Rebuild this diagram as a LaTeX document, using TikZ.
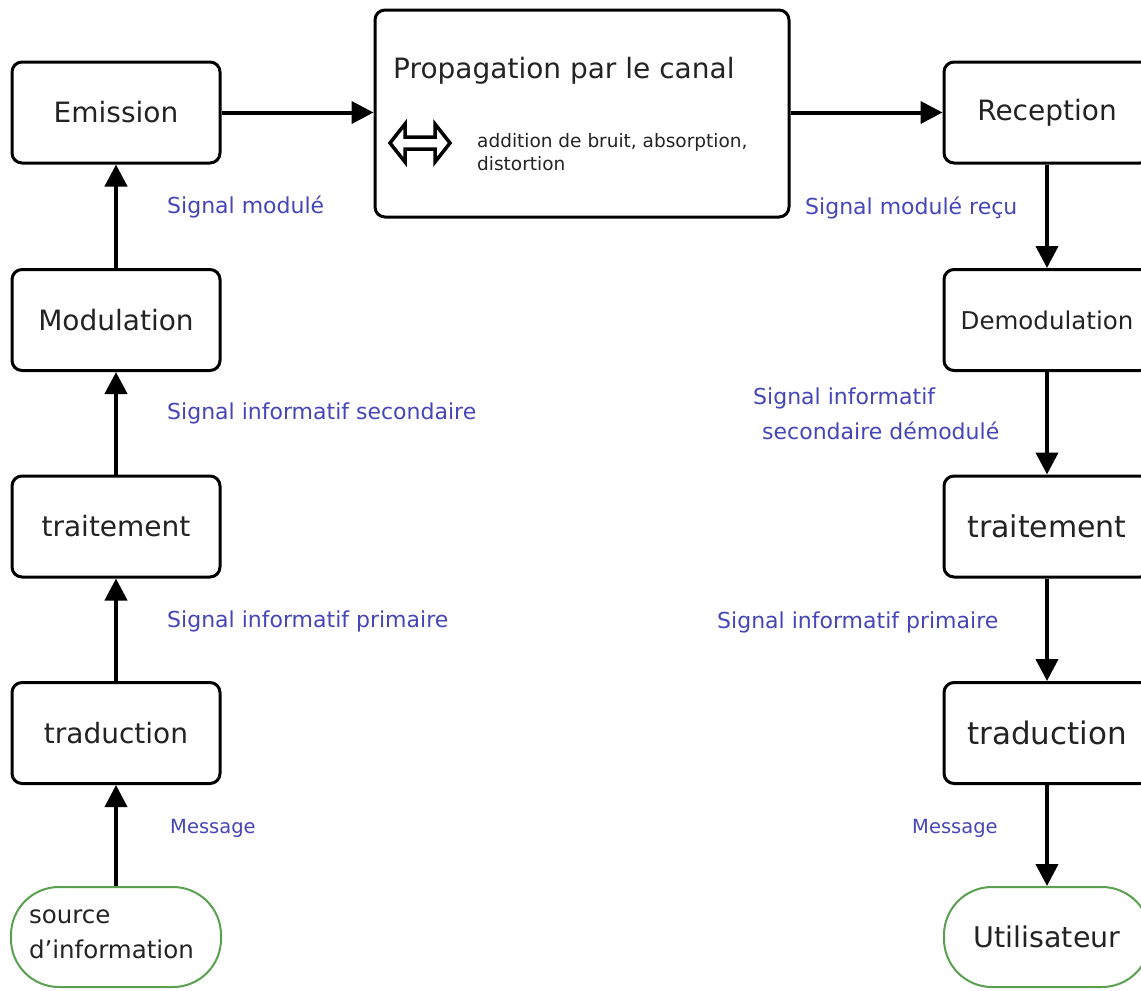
\documentclass[tikz,border=0pt]{standalone}
\usepackage{fontspec}
\setmainfont{DejaVu Sans}
\usetikzlibrary{arrows.meta}
\definecolor{lblc}{RGB}{70,70,185}
\definecolor{grn}{RGB}{90,160,80}
\definecolor{txt}{RGB}{35,35,35}
\begin{document}
\begin{tikzpicture}[x=1pt,y=-1pt,
  box/.style={draw=black, line width=3pt, rounded corners=10pt, minimum width=208pt, minimum height=101pt, inner sep=0pt, font=\fontsize{28}{34}\selectfont, text=txt},
  term/.style={draw=grn, line width=2pt, rounded corners=48pt, minimum width=210pt, minimum height=100pt, inner sep=0pt, text=txt},
  flow/.style={line width=4pt, -{Triangle[length=22pt,width=22pt]}},
  lbl/.style={text=lblc, font=\fontsize{22}{35}\selectfont, inner sep=0pt, anchor=west, align=left}]
\fill[white] (0,0) rectangle (1141,991);
\clip (0,0) rectangle (1141,991);
% left column
\node[box] (em) at (116,112.5) {Emission};
\node[box] (mod) at (116,320) {Modulation};
\node[box] (trL) at (116,526.5) {traitement};
\node[box] (tdL) at (116,733) {traduction};
\node[term, text width=174pt, align=left, font=\fontsize{24.5}{35}\selectfont] (src) at (116,937) {source\\d'information\vphantom{\rule{0pt}{0pt}}\rule[-6pt]{0pt}{6pt}};
% right column
\node[box, minimum width=206pt] (rec) at (1047,112.5) {Reception};
\node[box, minimum width=206pt, font=\fontsize{24.5}{30}\selectfont] (dem) at (1047,320) {Demodulation};
\node[box, minimum width=206pt, font=\fontsize{30}{36}\selectfont] (trR) at (1047,526.5) {traitement};
\node[box, minimum width=206pt, font=\fontsize{31}{37}\selectfont] (tdR) at (1047,733) {traduction};
\node[term, minimum width=206pt, font=\fontsize{28.5}{34}\selectfont] (usr) at (1047,937) {Utilisateur};
% channel
\node[box, minimum width=414pt, minimum height=207pt] (prop) at (582,113.5) {};
\node[anchor=base west, inner sep=0pt, font=\fontsize{28}{34}\selectfont, text=txt] (ptitle) at (393,78) {Propagation par le canal};
\node[anchor=base west, inner sep=0pt, align=left, font=\fontsize{18.5}{23}\selectfont, text=txt] (pnote) at (477,170) {addition de bruit, absorption,\\distortion};
\draw[line width=3.5pt, line join=miter] (390,143) -- (405,124) -- (405,137) -- (435,137) -- (435,124) -- (450,143) -- (435,162) -- (435,149) -- (405,149) -- (405,162) -- cycle;
% connectors
\draw[flow] (src.north) -- (tdL.south);
\draw[flow] (tdL.north) -- (trL.south);
\draw[flow] (trL.north) -- (mod.south);
\draw[flow] (mod.north) -- (em.south);
\draw[flow] (em.east) -- (em.east -| prop.west);
\draw[flow] (prop.east |- rec.west) -- (rec.west);
\draw[flow] (rec.south) -- (dem.north);
\draw[flow] (dem.south) -- (trR.north);
\draw[flow] (trR.south) -- (tdR.north);
\draw[flow] (tdR.south) -- (usr.north);
% labels
\node[lbl] (l1) at (167,207) {Signal modulé};
\node[lbl] (l2) at (167,413) {Signal informatif secondaire};
\node[lbl] (l3) at (167,621) {Signal informatif primaire};
\node[lbl, font=\fontsize{19.5}{23}\selectfont] (l4) at (170,828) {Message};
\node[lbl] (r1) at (805,208) {Signal modulé reçu};
\node[lbl] (r2) at (753,414) {Signal informatif\\\hspace*{9pt}secondaire démodulé};
\node[lbl] (r3) at (717,622) {Signal informatif primaire};
\node[lbl, font=\fontsize{19.5}{23}\selectfont] (r4) at (912,828) {Message};
\end{tikzpicture}
\end{document}
